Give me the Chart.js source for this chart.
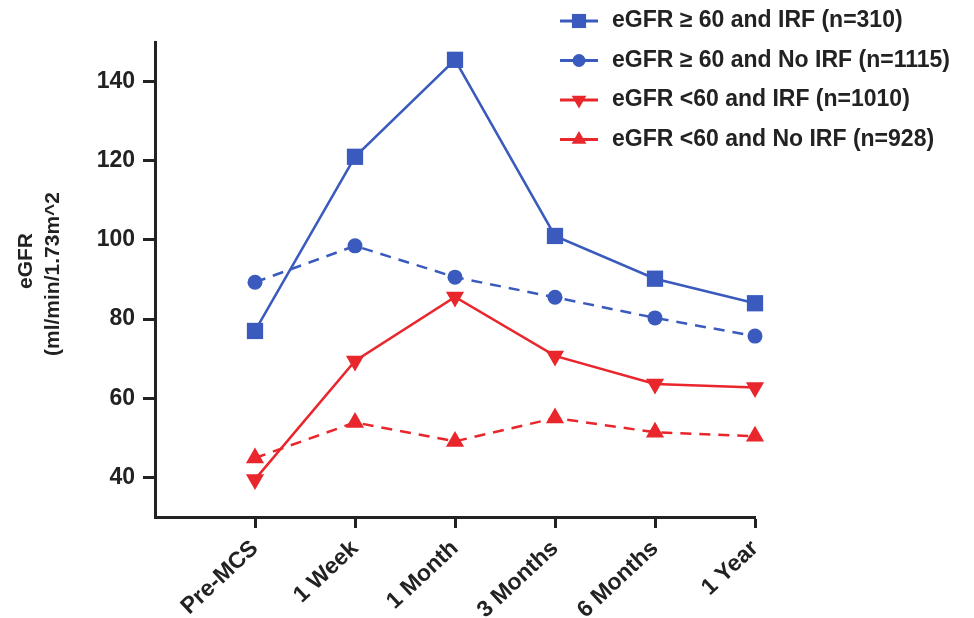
<!DOCTYPE html>
<html>
<head>
<meta charset="utf-8">
<script src="https://cdn.jsdelivr.net/npm/chart.js@4.4.0/dist/chart.umd.min.js"></script>
<style>
  html, body { margin: 0; padding: 0; background: #fff; }
  #wrap { width: 974px; height: 618px; }
</style>
</head>
<body>
<div id="wrap"><canvas id="egfrChart"></canvas></div>
<script>
/* ===== DATA ===== */
const timePoints = ["Pre-MCS", "1 Week", "1 Month", "3 Months", "6 Months", "1 Year"];
const yTickValues = [40, 60, 80, 100, 120, 140];
const yTitleLines = ["eGFR", "(ml/min/1.73m^2"];

const seriesNames = [
  "eGFR \u2265 60 and IRF (n=310)",
  "eGFR \u2265 60 and No IRF (n=1115)",
  "eGFR <60 and IRF (n=1010)",
  "eGFR <60 and No IRF (n=928)"
];
const highIrf   = [77, 121, 145.5, 101, 90.2, 84];
const highNoIrf = [89.3, 98.5, 90.6, 85.5, 80.3, 75.7];
const lowIrf    = [39.5, 69.4, 85.6, 70.7, 63.6, 62.7];
const lowNoIrf  = [44.9, 53.9, 49.1, 55, 51.4, 50.4];

const BLUE = "#3a5bbd";
const RED = "#e8262c";
const INK = "#222";
const FONT = "'Liberation Sans', Arial, Helvetica, sans-serif";

function toPoints(values) {
  return values.map((v, i) => ({ x: i, y: v }));
}

/* ===== LEGEND (top right, over the plot) ===== */
function drawMarker(ctx, style, x, y, r, color) {
  ctx.save();
  ctx.fillStyle = color;
  ctx.beginPath();
  if (style === "rect") {
    const s = r * Math.SQRT1_2;
    ctx.rect(x - s, y - s, 2 * s, 2 * s);
  } else if (style === "circle") {
    ctx.arc(x, y, r, 0, Math.PI * 2);
  } else {
    const dir = style === "triDown" ? -1 : 1;
    for (let k = 0; k < 3; k++) {
      const a = k * 2 * Math.PI / 3;
      const px = x + Math.sin(a) * r;
      const py = y - dir * Math.cos(a) * r;
      if (k === 0) ctx.moveTo(px, py); else ctx.lineTo(px, py);
    }
    ctx.closePath();
  }
  ctx.fill();
  ctx.restore();
}

const cornerLegend = {
  id: "cornerLegend",
  afterDraw(chart, args, opts) {
    const ctx = chart.ctx;
    const styles = ["rect", "circle", "triDown", "triUp"];
    const sizes = [10, 6.5, 8.5, 8.5];
    chart.data.datasets.forEach((ds, i) => {
      const y = opts.top + i * opts.rowGap;
      ctx.save();
      ctx.strokeStyle = ds.borderColor;
      ctx.lineWidth = 3;
      ctx.beginPath();
      ctx.moveTo(opts.left, y);
      ctx.lineTo(opts.left + 38, y);
      ctx.stroke();
      drawMarker(ctx, styles[i], opts.left + 19, y, sizes[i], ds.borderColor);
      ctx.fillStyle = INK;
      ctx.font = "bold 23px " + FONT;
      ctx.textBaseline = "middle";
      ctx.textAlign = "left";
      ctx.fillText(ds.label, opts.left + 52, y);
      ctx.restore();
    });
  }
};

/* ===== Y AXIS TITLE (two rotated lines) ===== */
const yTitle = {
  id: "yTitle",
  afterDraw(chart, args, opts) {
    const ctx = chart.ctx;
    ctx.save();
    ctx.fillStyle = INK;
    ctx.font = "bold 21px " + FONT;
    ctx.textAlign = "center";
    ctx.textBaseline = "middle";
    yTitleLines.forEach((line, i) => {
      ctx.save();
      ctx.translate(opts.x[i], opts.y[i]);
      ctx.rotate(-Math.PI / 2);
      ctx.fillText(line, 0, 0);
      ctx.restore();
    });
    ctx.restore();
  }
};

/* ===== CHART ===== */
document.addEventListener("DOMContentLoaded", () => {
  const common = { borderWidth: 2.5, pointBorderWidth: 0, tension: 0, fill: false, clip: false };

  new Chart(document.getElementById("egfrChart"), {
    type: "line",
    data: {
      datasets: [
        { ...common, label: seriesNames[0], data: toPoints(highIrf),
          borderColor: BLUE, backgroundColor: BLUE,
          pointStyle: "rect", pointRadius: 11.5, pointHoverRadius: 11.5 },
        { ...common, label: seriesNames[1], data: toPoints(highNoIrf),
          borderColor: BLUE, backgroundColor: BLUE, borderDash: [11, 8],
          pointStyle: "circle", pointRadius: 7.5, pointHoverRadius: 7.5 },
        { ...common, label: seriesNames[2], data: toPoints(lowIrf),
          borderColor: RED, backgroundColor: RED,
          pointStyle: "triangle", pointRotation: 180, pointRadius: 10.5, pointHoverRadius: 10.5 },
        { ...common, label: seriesNames[3], data: toPoints(lowNoIrf),
          borderColor: RED, backgroundColor: RED, borderDash: [11, 8],
          pointStyle: "triangle", pointRadius: 10.5, pointHoverRadius: 10.5 }
      ]
    },
    options: {
      responsive: true,
      maintainAspectRatio: false,
      animation: false,
      layout: { padding: { top: 42, right: 219, bottom: 0, left: 0 } },
      plugins: {
        legend: { display: false },
        tooltip: { enabled: false },
        cornerLegend: { left: 560, top: 21, rowGap: 39.5 },
        yTitle: { x: [26, 53], y: [261, 274] }
      },
      scales: {
        x: {
          type: "linear",
          min: -1,
          max: 5,
          afterBuildTicks(scale) {
            scale.ticks = timePoints.map((t, i) => ({ value: i }));
          },
          afterFit(scale) { scale.height = 101; },
          border: { display: true, width: 3, color: INK },
          grid: { display: true, drawOnChartArea: false, drawTicks: true,
                  tickLength: 11, tickWidth: 3, tickColor: INK },
          ticks: {
            autoSkip: false,
            maxRotation: 43,
            minRotation: 43,
            padding: 7,
            color: INK,
            font: { family: FONT, size: 23, weight: "bold" },
            callback: (v) => timePoints[v] ?? ""
          }
        },
        y: {
          min: 30,
          max: 150,
          afterBuildTicks(scale) {
            scale.ticks = yTickValues.map(v => ({ value: v }));
          },
          afterFit(scale) { scale.width = 155; },
          border: { display: true, width: 3, color: INK },
          grid: { display: true, drawOnChartArea: false, drawTicks: true,
                  tickLength: 12, tickWidth: 3, tickColor: INK },
          ticks: {
            padding: 8,
            color: INK,
            font: { family: FONT, size: 23, weight: "bold" }
          }
        }
      }
    },
    plugins: [cornerLegend, yTitle]
  });
});
</script>
</body>
</html>
